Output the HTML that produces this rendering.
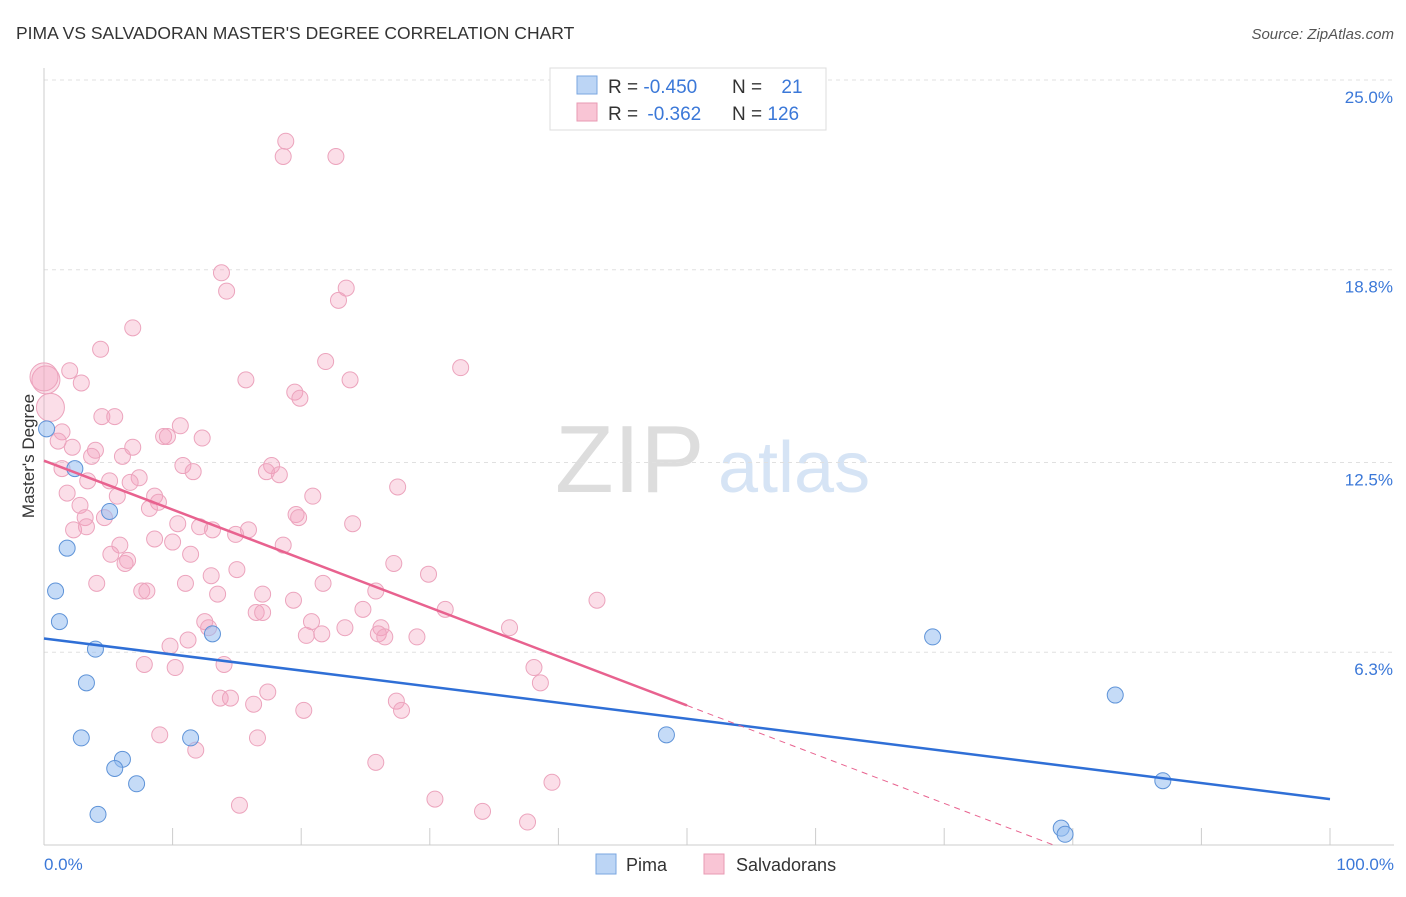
<!DOCTYPE html>
<html><head><meta charset="utf-8">
<style>
body{margin:0;background:#fff;font-family:"Liberation Sans",sans-serif;}
svg text{font-family:"Liberation Sans",sans-serif;}
</style></head>
<body>
<svg id="chart" width="1406" height="892" xmlns="http://www.w3.org/2000/svg">
<text x="16" y="39" font-size="17.5" fill="#333">PIMA VS SALVADORAN MASTER'S DEGREE CORRELATION CHART</text>
<text x="1394" y="39" font-size="15" fill="#555" text-anchor="end" font-style="italic">Source: ZipAtlas.com</text>
<text x="555" y="492" font-size="96" fill="#ddd" font-family="Liberation Serif">ZIP</text>
<text x="718" y="492" font-size="72" fill="#d6e4f5">atlas</text>
<g id="grid"></g><g id="axes"></g><g id="points"></g><g id="trends"></g>
<text transform="translate(34,456) rotate(-90)" font-size="17" fill="#333" text-anchor="middle">Master's Degree</text>
<text x="44" y="870" font-size="17" fill="#3b78d8">0.0%</text>
<text x="1394" y="870" font-size="17" fill="#3b78d8" text-anchor="end">100.0%</text>
<g>
<rect x="550" y="68" width="276" height="62" fill="#fff" stroke="#ddd"/>
<rect x="577" y="76" width="20" height="18" fill="#bcd5f5" stroke="#7aa6e0"/>
<rect x="577" y="103" width="20" height="18" fill="#f9c5d5" stroke="#e89ab3"/>
<text x="608" y="93" font-size="19" fill="#333">R = <tspan fill="#3b78d8">-0.450</tspan></text>
<text x="732" y="93" font-size="19" fill="#333">N = <tspan dx="14" fill="#3b78d8">21</tspan></text>
<text x="608" y="120" font-size="19" fill="#333">R = <tspan dx="4" fill="#3b78d8">-0.362</tspan></text>
<text x="732" y="120" font-size="19" fill="#333">N = <tspan fill="#3b78d8">126</tspan></text>
</g>
<g>
<rect x="596" y="854" width="20" height="20" fill="#bcd5f5" stroke="#7aa6e0"/>
<text x="626" y="871" font-size="18" fill="#333">Pima</text>
<rect x="704" y="854" width="20" height="20" fill="#f9c5d5" stroke="#e89ab3"/>
<text x="736" y="871" font-size="18" fill="#333">Salvadorans</text>
</g>
</svg>
<script>
const yTicks=[25.0,18.8,12.5,6.3];
const yTickLabels=["25.0%","18.8%","12.5%","6.3%"];
const xTicks=[0,10,20,30,40,50,60,70,80,90,100];
const pimaX=[0.2,2.4,1.8,0.9,1.2,4.0,3.3,2.9,5.1,6.1,5.5,7.2,4.2,13.1,11.4,48.4,69.1,83.3,87.0,79.1,79.4];
const pimaY=[13.6,12.3,9.7,8.3,7.3,6.4,5.3,3.5,10.9,2.8,2.5,2.0,1.0,6.9,3.5,3.6,6.8,4.9,2.1,0.55,0.35];
const salvX=[18.8,18.6,22.7,13.8,14.2,23.5,22.9,6.9,4.4,21.9,32.4,2.0,2.9,15.7,23.8,19.5,19.9,4.5,5.5,1.4,10.6,9.3,9.6,12.3,1.1,2.2,6.9,4.0,3.7,6.1,10.8,11.6,1.4,17.7,17.3,18.3,7.4,5.1,3.4,6.7,27.5,1.8,5.7,8.6,8.9,20.9,2.8,8.2,3.2,4.7,19.6,19.8,24.0,10.4,12.1,13.1,15.9,14.9,2.3,3.3,8.6,5.9,10.0,18.6,5.2,11.4,6.3,6.5,15.0,27.2,13.0,4.1,11.0,21.7,29.9,7.6,8.0,13.5,17.0,25.8,19.4,43.0,24.8,31.2,16.5,17.0,12.5,20.8,12.8,23.4,36.2,26.2,11.2,20.4,21.6,26.0,26.5,29.0,9.8,14.0,7.8,10.2,38.1,38.6,17.4,13.7,14.5,16.3,27.4,27.8,20.2,9.0,16.6,11.8,25.8,39.5,15.2,30.4,34.1,37.6,0.15,0.5,0.0];
const salvY=[23.0,22.5,22.5,18.7,18.1,18.2,17.8,16.9,16.2,15.8,15.6,15.5,15.1,15.2,15.2,14.8,14.6,14.0,14.0,13.5,13.7,13.35,13.35,13.3,13.2,13.0,13.0,12.9,12.7,12.7,12.4,12.2,12.3,12.4,12.2,12.1,12.0,11.9,11.9,11.85,11.7,11.5,11.4,11.4,11.2,11.4,11.1,11.0,10.7,10.7,10.8,10.7,10.5,10.5,10.4,10.3,10.3,10.15,10.3,10.4,10.0,9.8,9.9,9.8,9.5,9.5,9.2,9.3,9.0,9.2,8.8,8.55,8.55,8.55,8.85,8.3,8.3,8.2,8.2,8.3,8.0,8.0,7.7,7.7,7.6,7.6,7.3,7.3,7.1,7.1,7.1,7.1,6.7,6.85,6.9,6.9,6.8,6.8,6.5,5.9,5.9,5.8,5.8,5.3,5.0,4.8,4.8,4.6,4.7,4.4,4.4,3.6,3.5,3.1,2.7,2.05,1.3,1.5,1.1,0.75,15.2,14.3,15.3];
const pimaTrend=[6.75,1.5];
const salvTrend=[12.56,-3.44];
const salvSolidEnd=50;

const NS="http://www.w3.org/2000/svg";
const X0=44,X1=1330,Y0=845,YT=80;
const sx=v=>X0+(X1-X0)*v/100;
const sy=v=>Y0-(Y0-YT)*v/25;
function mk(tag,attrs,parent){const e=document.createElementNS(NS,tag);for(const k in attrs)e.setAttribute(k,attrs[k]);parent.appendChild(e);return e;}
const grid=document.getElementById('grid'),axes=document.getElementById('axes'),pts=document.getElementById('points'),tr=document.getElementById('trends');
yTicks.forEach((t,i)=>{
 const l=mk('line',{x1:X0,x2:1394,y1:sy(t),y2:sy(t),stroke:'#e0e0e0','stroke-dasharray':'4,4'},grid);
 
 
 const tx=mk('text',{x:1393,y:sy(t)+23,'font-size':17,fill:'#3b78d8','text-anchor':'end'},grid);
 tx.textContent=yTickLabels[i];
 
 
});
const ax=mk('line',{x1:X0,x2:X0,y1:68,y2:Y0,stroke:'#ccc'},axes);


const bx=mk('line',{x1:X0,x2:1394,y1:Y0,y2:Y0,stroke:'#ccc'},axes);


xTicks.forEach(t=>{
 const l=mk('line',{x1:sx(t),x2:sx(t),y1:Y0,y2:Y0-17,stroke:'#ccc'},axes);
 
 
});
salvX.forEach((v,i)=>{
 const big=i>=salvX.length-3;
 const c=mk('circle',{cx:sx(v),cy:sy(salvY[i]),r:big?14:8,fill:'rgba(244,160,188,0.35)',stroke:'#eca4bd','stroke-width':1},pts);
 
 
});
pimaX.forEach((v,i)=>{
 const c=mk('circle',{cx:sx(v),cy:sy(pimaY[i]),r:8,fill:'rgba(150,190,240,0.55)',stroke:'#5e93d8','stroke-width':1},pts);
 
 
});
const pl=mk('line',{x1:sx(0),y1:sy(pimaTrend[0]),x2:sx(100),y2:sy(pimaTrend[1]),stroke:'#2f6fd6','stroke-width':2.5},tr);


const sEnd=salvTrend[0]+(salvTrend[1]-salvTrend[0])*salvSolidEnd/100;
const sl=mk('line',{x1:sx(0),y1:sy(salvTrend[0]),x2:sx(salvSolidEnd),y2:sy(sEnd),stroke:'#e8628f','stroke-width':2.5},tr);


const zeroX=-salvTrend[0]/((salvTrend[1]-salvTrend[0])/100);
const sd=mk('line',{x1:sx(salvSolidEnd),y1:sy(sEnd),x2:sx(zeroX),y2:sy(0),stroke:'#e8628f','stroke-width':1,'stroke-dasharray':'6,5'},tr);


</script>
</body></html>
